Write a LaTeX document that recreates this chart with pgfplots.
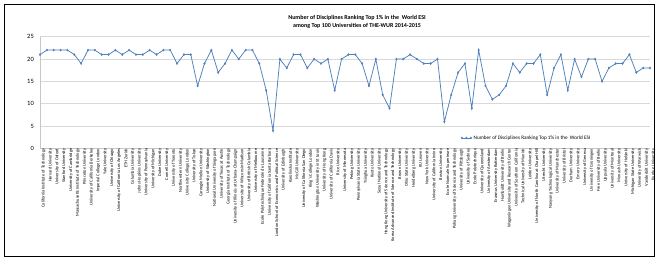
\documentclass[border=0pt]{standalone}
\usepackage{fontspec}
\setmainfont{Carlito}
\usepackage{pgfplots}
\pgfplotsset{compat=1.18}
\definecolor{xlblue}{HTML}{4F81BD}
\pgfplotstableread{
x y
1 21
2 22
3 22
4 22
5 22
6 21
7 19
8 22
9 22
10 21
11 21
12 22
13 21
14 22
15 21
16 21
17 22
18 21
19 22
20 22
21 19
22 21
23 21
24 14
25 19
26 22
27 17
28 19
29 22
30 20
31 22
32 22
33 19
34 13
35 4
36 20
37 18
38 21
39 21
40 18
41 20
42 19
43 20
44 13
45 20
46 21
47 21
48 19
49 14
50 20
51 12
52 9
53 20
54 20
55 21
56 20
57 19
58 19
59 20
60 6
61 12
62 17
63 19
64 9
65 22
66 14
67 11
68 12
69 14
70 19
71 17
72 19
73 19
74 21
75 12
76 18
77 21
78 13
79 20
80 16
81 20
82 20
83 15
84 18
85 19
86 19
87 21
88 17
89 18
90 18
}\esidata
\begin{document}
\begin{tikzpicture}[x=1pt,y=1pt]
\fill[white] (0,0) rectangle (659,261);
\draw[line width=1.8pt] (4.5,4.5) rectangle (654.5,256.5);
\node[font=\bfseries\fontsize{6}{7.5}\selectfont, align=center] at (357,239)
  {Number of Disciplines Ranking Top 1\% in the\ \ World ESI\\among Top 100 Universities of THE-WUR 2014-2015};
\begin{axis}[
  at={(40pt,112.5pt)}, anchor=south west,
  scale only axis, width=610pt, height=111.8pt,
  xmin=1, xmax=90, ymin=0, ymax=25,
  ytick={0,5,...,25},
  xtick={1,...,90},
  xticklabels={California Institute of Technology,Harvard University,University of Oxford,Stanford University,University of Cambridge,Massachusetts Institute of Technology,Princeton University,University of California Berkeley,Imperial College London,Yale University,University of Chicago,University of California Los Angeles,ETH Zurich,Columbia University,Johns Hopkins University,University of Pennsylvania,University of Michigan,Duke University,Cornell University,University of Toronto,Northwestern University,University College London,University of Tokyo,Carnegie Mellon University,University of Washington,National University of Singapore,University of Texas at Austin,Georgia Institute of Technology,University of Illinois at Urbana-Champaign,University of Wisconsin-Madison,University of British Columbia,University of Melbourne,Ecole Polytechnique Federale de Lausanne,University of California Santa Barbara,London School of Economics and Political Science,University of Edinburgh,Karolinska Institute,McGill University,University of California San Diego,King's College London,Washington University in St Louis,University of Hong Kong,University of California Davis,Rice University,University of Minnesota,Peking University,Pennsylvania State University,Tsinghua University,Kyoto University,Seoul National University,Hong Kong University of Science and Technology,Korea Advanced Institute of Science and Technology,Brown University,Ohio State University,Heidelberg University,KU Leuven,New York University,University of California Irvine,Boston University,Ecole Normale Superieure,Pohang University of Science and Technology,University of Pittsburgh,University of Sydney,Ecole Polytechnique,University of Queensland,University of Amsterdam,Erasmus University Rotterdam,Humboldt University of Berlin,Wageningen University and Research Center,University of Southern California,Technical University of Munich,Leiden University,University of North Carolina at Chapel Hill,Utrecht University,Nanyang Technological University,University of Manchester,University of Bristol,Durham University,Emory University,University of Geneva,University of Groningen,Free University of Berlin,Uppsala University,University of Montreal,Monash University,University of Helsinki,Michigan State University,University of Warwick,Vanderbilt University,Purdue University},
  xticklabel style={font=\fontsize{4.4}{4.4}\selectfont, rotate=90, anchor=east, inner sep=0pt, yshift=-3.5pt},
  yticklabel style={font=\fontsize{6.5}{7}\selectfont, inner sep=0pt, xshift=-6pt},
  /pgf/number format/assume math mode=true,
  ymajorgrids,
  grid style={draw=black!15, line width=0.6pt},
  axis lines*=left,
  axis line style={draw=black!22, line width=0.6pt},
  tick style={draw=none},
  clip=false,
  legend style={at={(0.69,0.094)}, anchor=west, draw=none, fill=none,
    font=\fontsize{5.2}{6}\selectfont, inner sep=0pt},
  legend cell align=left,
  legend image code/.code={\draw[#1] plot coordinates {(0pt,0pt) (4.5pt,0pt) (9pt,0pt)};},
]
\addplot[color=xlblue, line width=0.75pt, mark=diamond*, mark size=1.1pt,
  mark options={fill=xlblue, draw=xlblue, line width=0.3pt}, mark repeat=1]
  table[x=x,y=y] {\esidata};
\addlegendentry{Number of Disciplines Ranking Top 1\% in the\ \ World ESI}
\end{axis}
\end{tikzpicture}
\end{document}
